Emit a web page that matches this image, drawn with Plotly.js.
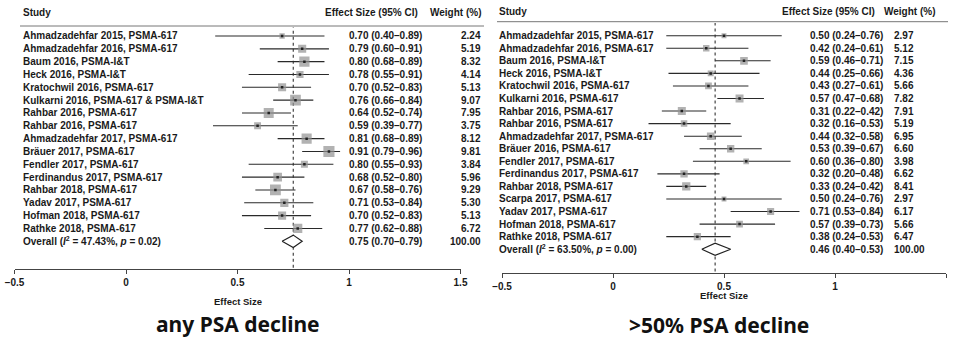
<!DOCTYPE html>
<html>
<head>
<meta charset="utf-8">
<script src="https://cdn.plot.ly/plotly-3.0.1.min.js"></script>
<style>html,body{margin:0;padding:0;background:#fff;}#chart{width:953px;height:338px;}</style>
</head>
<body>
<div id="chart"></div>
<script>
// ---------- DATA ----------
const panelTitleA = "any PSA decline";
const panelTitleB = ">50% PSA decline";
const headerCols = ["Study", "Effect Size (95% CI)", "Weight (%)"];
const axisTitle = "Effect Size";
const tickVals = [-0.5, 0, 0.5, 1, 1.5];
const tickText = ["\u22120.5", "0", "0.5", "1", "1.5"];

const studiesA = ["Ahmadzadehfar 2015, PSMA-617", "Ahmadzadehfar 2016, PSMA-617", "Baum 2016, PSMA-I&T", "Heck 2016, PSMA-I&T", "Kratochwil 2016, PSMA-617", "Kulkarni 2016, PSMA-617 & PSMA-I&T", "Rahbar 2016, PSMA-617", "Rahbar 2016, PSMA-617", "Ahmadzadehfar 2017, PSMA-617", "Bräuer 2017, PSMA-617", "Fendler 2017, PSMA-617", "Ferdinandus 2017, PSMA-617", "Rahbar 2018, PSMA-617", "Yadav 2017, PSMA-617", "Hofman 2018, PSMA-617", "Rathke 2018, PSMA-617"];
const esA = [0.70, 0.79, 0.80, 0.78, 0.70, 0.76, 0.64, 0.59, 0.81, 0.91, 0.80, 0.68, 0.67, 0.71, 0.70, 0.77];
const loA = [0.40, 0.60, 0.68, 0.55, 0.52, 0.66, 0.52, 0.39, 0.68, 0.79, 0.55, 0.52, 0.58, 0.53, 0.52, 0.62];
const hiA = [0.89, 0.91, 0.89, 0.91, 0.83, 0.84, 0.74, 0.77, 0.89, 0.96, 0.93, 0.80, 0.76, 0.84, 0.83, 0.88];
const wA  = [2.24, 5.19, 8.32, 4.14, 5.13, 9.07, 7.95, 3.75, 8.12, 9.81, 3.84, 5.96, 9.29, 5.30, 5.13, 6.72];
const overallA = {es: 0.75, lo: 0.70, hi: 0.79, w: 100.00, i2: "47.43", p: "0.02"};

const studiesB = ["Ahmadzadehfar 2015, PSMA-617", "Ahmadzadehfar 2016, PSMA-617", "Baum 2016, PSMA-I&T", "Heck 2016, PSMA-I&T", "Kratochwil 2016, PSMA-617", "Kulkarni 2016, PSMA-617", "Rahbar 2016, PSMA-617", "Rahbar 2016, PSMA-617", "Ahmadzadehfar 2017, PSMA-617", "Bräuer 2016, PSMA-617", "Fendler 2017, PSMA-617", "Ferdinandus 2017, PSMA-617", "Rahbar 2018, PSMA-617", "Scarpa 2017, PSMA-617", "Yadav 2017, PSMA-617", "Hofman 2018, PSMA-617", "Rathke 2018, PSMA-617"];
const esB = [0.50, 0.42, 0.59, 0.44, 0.43, 0.57, 0.31, 0.32, 0.44, 0.53, 0.60, 0.32, 0.33, 0.50, 0.71, 0.57, 0.38];
const loB = [0.24, 0.24, 0.46, 0.25, 0.27, 0.47, 0.22, 0.16, 0.32, 0.39, 0.36, 0.20, 0.24, 0.24, 0.53, 0.39, 0.24];
const hiB = [0.76, 0.61, 0.71, 0.66, 0.61, 0.68, 0.42, 0.53, 0.58, 0.67, 0.80, 0.48, 0.42, 0.76, 0.84, 0.73, 0.53];
const wB  = [2.97, 5.12, 7.15, 4.36, 5.66, 7.82, 7.91, 5.19, 6.95, 6.60, 3.98, 6.62, 8.41, 2.97, 6.17, 5.66, 6.47];
const overallB = {es: 0.46, lo: 0.40, hi: 0.53, w: 100.00, i2: "63.50", p: "0.00"};

// ---------- STYLE / LAYOUT ----------
const W = 953, H = 338;
const FONT = "Liberation Sans, Arial, Helvetica, sans-serif";
const TXT = "#1a1a1a";
const px = v => v / W;          // page x px -> paper
const py = v => 1 - v / H;      // page y px -> paper

const esc = s => s.replace(/&/g, "&amp;");
const fmt = v => v.toFixed(2);
const ciText = (e, l, h) => fmt(e) + " (" + fmt(l) + "\u2013" + fmt(h) + ")";

const panels = [
  {studies: studiesA, es: esA, lo: loA, hi: hiA, w: wA, ov: overallA, xa: "x", ya: "y",
   labelX: 21, ciX: 347, esHeadX: 323, wHeadX: 428, wX: 483, wAnchor: "right", headY: 12.5, lineY: 26, lineX0: 20, lineX1: 484,
   sizeK: 3.55, title: panelTitleA, titleX: 238, titleY: 324, axTitleY: 301},
  {studies: studiesB, es: esB, lo: loB, hi: hiB, w: wB, ov: overallB, xa: "x2", ya: "y2",
   labelX: 497, ciX: 808, esHeadX: 780, wHeadX: 882, wX: 892, wAnchor: "left", headY: 11.5, lineY: 21.7, lineX0: 497, lineX1: 948,
   sizeK: 2.85, title: panelTitleB, titleX: 719, titleY: 325, axTitleY: 295}
];

const traces = [];
const annotations = [];
const shapes = [];

panels.forEach(P => {
  const n = P.studies.length;
  const rows = P.studies.map((_, i) => i);
  // CI lines + weighted grey squares
  traces.push({
    type: "scatter", mode: "markers", xaxis: P.xa, yaxis: P.ya,
    x: P.es, y: rows,
    marker: {symbol: "square", color: "rgb(145,145,145)", size: P.w.map(w => P.sizeK * Math.sqrt(w)), line: {width: 0}},
    error_x: {type: "data", symmetric: false,
      array: P.hi.map((h, i) => h - P.es[i]),
      arrayminus: P.lo.map((l, i) => P.es[i] - l),
      width: 0, thickness: 1.1, color: "#2a2a2a"},
    hoverinfo: "skip", showlegend: false
  });
  // point estimate dots
  traces.push({
    type: "scatter", mode: "markers", xaxis: P.xa, yaxis: P.ya,
    x: P.es, y: rows,
    marker: {symbol: "square", color: "#222", size: 2.5},
    hoverinfo: "skip", showlegend: false
  });
  // overall diamond
  const r = n, h = 0.48;
  traces.push({
    type: "scatter", mode: "lines", xaxis: P.xa, yaxis: P.ya,
    x: [P.ov.lo, P.ov.es, P.ov.hi, P.ov.es, P.ov.lo],
    y: [r, r - h, r, r + h, r],
    fill: "toself", fillcolor: "#fff", line: {color: "#222", width: 1.2},
    hoverinfo: "skip", showlegend: false
  });
  // dashed overall line
  shapes.push({type: "line", xref: P.xa, yref: P.ya + " domain", x0: P.ov.es, x1: P.ov.es, y0: 0.005, y1: 0.995,
    line: {color: "#333", width: 1.1, dash: "3px,3px"}, layer: "below"});
  // header line
  shapes.push({type: "line", xref: "paper", yref: "paper", x0: px(P.lineX0), x1: px(P.lineX1), y0: py(P.lineY), y1: py(P.lineY),
    line: {color: "#777", width: 1}});

  const f = {family: FONT, size: 10, color: TXT, weight: "bold"};
  // headers
  annotations.push({xref: "paper", yref: "paper", x: px(P.labelX), y: py(P.headY), xanchor: "left", yanchor: "middle", text: headerCols[0], showarrow: false, font: f});
  annotations.push({xref: "paper", yref: "paper", x: px(P.esHeadX), y: py(P.headY), xanchor: "left", yanchor: "middle", text: headerCols[1], showarrow: false, font: f});
  annotations.push({xref: "paper", yref: "paper", x: px(P.wHeadX), y: py(P.headY), xanchor: "left", yanchor: "middle", text: headerCols[2], showarrow: false, font: f});
  // rows
  P.studies.forEach((s, i) => {
    annotations.push({xref: "paper", yref: P.ya, x: px(P.labelX), y: i, xanchor: "left", yanchor: "middle", text: esc(s), showarrow: false, font: f});
    annotations.push({xref: "paper", yref: P.ya, x: px(P.ciX), y: i, xanchor: "left", yanchor: "middle", text: ciText(P.es[i], P.lo[i], P.hi[i]), showarrow: false, font: f});
    annotations.push({xref: "paper", yref: P.ya, x: px(P.wX), y: i, xanchor: P.wAnchor, yanchor: "middle", text: fmt(P.w[i]), showarrow: false, font: f});
  });
  // overall row
  annotations.push({xref: "paper", yref: P.ya, x: px(P.labelX), y: n, xanchor: "left", yanchor: "middle",
    text: "Overall (<i>I</i><sup>2</sup> = " + P.ov.i2 + "%, <i>p</i> = " + P.ov.p + ")", showarrow: false, font: f});
  annotations.push({xref: "paper", yref: P.ya, x: px(P.ciX), y: n, xanchor: "left", yanchor: "middle", text: ciText(P.ov.es, P.ov.lo, P.ov.hi), showarrow: false, font: f});
  annotations.push({xref: "paper", yref: P.ya, x: px(P.wX), y: n, xanchor: P.wAnchor, yanchor: "middle", text: fmt(P.ov.w), showarrow: false, font: f});
  // axis title
  annotations.push({xref: P.xa + " domain", yref: "paper", x: 0.5, y: py(P.axTitleY), xanchor: "center", yanchor: "middle",
    borderpad: 0, text: axisTitle, showarrow: false, font: {family: FONT, size: 9.5, color: TXT, weight: "bold"}});
  // panel title
  annotations.push({xref: "paper", yref: "paper", x: px(P.titleX), y: py(P.titleY), xanchor: "center", yanchor: "middle",
    borderpad: 0, text: "<b>" + P.title + "</b>", showarrow: false,
    font: {family: "Noto Sans, Open Sans, sans-serif", size: 21, color: "#111", weight: "bold"}});
});

const xaxisBase = {
  range: [-0.5, 1.5], tickvals: tickVals, ticktext: tickText, showgrid: false, zeroline: false,
  showline: true, linecolor: "#444", linewidth: 1, ticks: "outside", ticklen: 4, tickcolor: "#444", tickwidth: 1,
  tickfont: {family: FONT, size: 10, color: TXT, weight: "bold"}, fixedrange: true
};

const layout = {
  width: W, height: H, margin: {l: 0, r: 0, t: 0, b: 0},
  paper_bgcolor: "#fff", plot_bgcolor: "rgba(0,0,0,0)", showlegend: false,
  xaxis: Object.assign({}, xaxisBase, {domain: [px(14.5), px(460.5)], anchor: "y"}),
  yaxis: {domain: [py(269), py(26)], range: [(269 - 36) / 12.83, (26 - 36) / 12.83], visible: false, fixedrange: true, anchor: "x"},
  xaxis2: Object.assign({}, xaxisBase, {domain: [px(502), px(946)], anchor: "y2"}),
  yaxis2: {domain: [py(272.7), py(21.7)], range: [(272.7 - 35.7) / 12.56, (21.7 - 35.7) / 12.56], visible: false, fixedrange: true, anchor: "x2"},
  annotations: annotations, shapes: shapes
};

Plotly.newPlot("chart", traces, layout, {displayModeBar: false, staticPlot: true});
</script>
</body>
</html>
